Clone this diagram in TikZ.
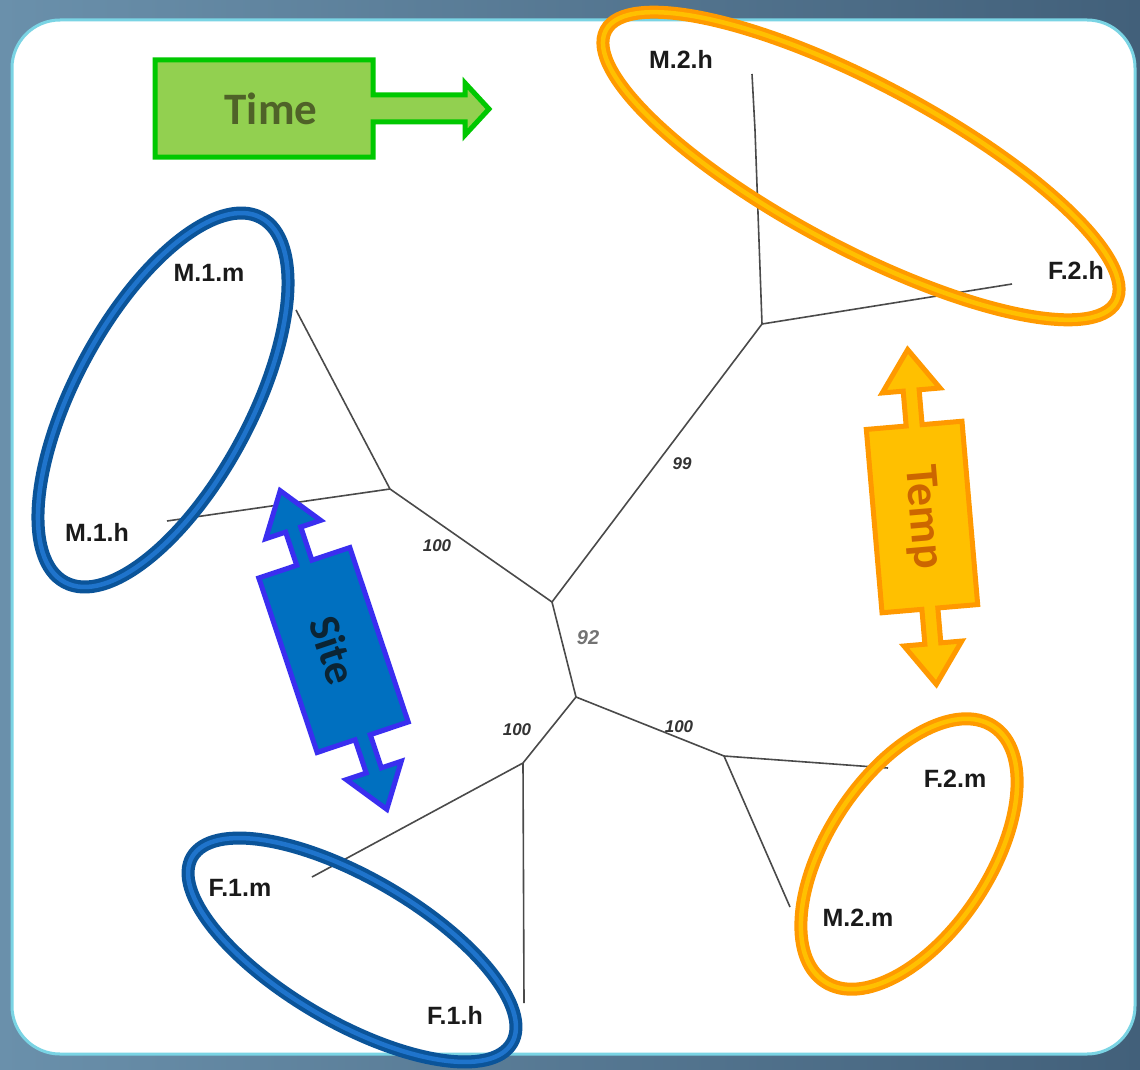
\documentclass[tikz,border=0pt]{standalone}
\usepackage{fontspec}
\newfontfamily\arialf{Liberation Sans}
\newfontfamily\calib{Carlito}
\definecolor{bgA}{HTML}{6A90AB}
\definecolor{bgB}{HTML}{42607A}
\definecolor{panelrim}{HTML}{7AD4E4}
\definecolor{branch}{HTML}{4A4A4A}
\definecolor{tiptext}{HTML}{1A1A1A}
\definecolor{bluedark}{HTML}{0B5499}
\definecolor{bluelight}{HTML}{1F74CC}
\definecolor{orangedark}{HTML}{FF9A00}
\definecolor{orangelight}{HTML}{FFC000}
\definecolor{timefill}{HTML}{92D050}
\definecolor{timerim}{HTML}{00C800}
\definecolor{timetext}{HTML}{4F6228}
\definecolor{tempfill}{HTML}{FFC000}
\definecolor{temprim}{HTML}{FF9900}
\definecolor{temptext}{HTML}{CC6600}
\definecolor{sitefill}{HTML}{0070C0}
\definecolor{siterim}{HTML}{3A2EF0}
\definecolor{sitetext}{HTML}{0B2434}
\begin{document}
\begin{tikzpicture}[x=1pt,y=-1pt,
  edge/.style={draw=branch,line width=1.6pt},
  tip/.style={font=\arialf\bfseries\fontsize{25}{28}\selectfont,text=tiptext,inner sep=0pt},
  support/.style={font=\arialf\bfseries\itshape\fontsize{17}{20}\selectfont,text=black!80,inner sep=0pt},
  arrowbody/.style={line width=5pt,line join=miter},
  ringout/.style={line width=13pt},
  ringin/.style={line width=4.5pt}]
\useasboundingbox (0,0) rectangle (1140,1070);
% backdrop and white panel
\shade[left color=bgA,right color=bgB] (0,0) rectangle (1140,1070);
\fill[white,draw=panelrim,line width=3pt,rounded corners=48pt] (12,20) rectangle (1135,1054);

% internal vertices of the tree
\coordinate (A) at (390,489);
\coordinate (B) at (552,602);
\coordinate (C) at (762,324);
\coordinate (D) at (576,697);
\coordinate (E) at (523,763);
\coordinate (G) at (724,756);
% leaf ends
\coordinate (m1m) at (296,310);
\coordinate (m1h) at (167,521);
\coordinate (m2h) at (752,74);
\coordinate (m2hk) at (755,130);
\coordinate (f2h) at (1012,284);
\coordinate (f1m) at (312,877);
\coordinate (f1h) at (524,1003);
\coordinate (f2m) at (888,768);
\coordinate (m2m) at (790,907);

\draw[edge] (A) -- (m1m);
\draw[edge] (A) -- (m1h);
\draw[edge] (A) -- (B);
\draw[edge] (B) -- (C);
\draw[edge] (C) -- (m2hk) -- (m2h);
\draw[edge] (C) -- (f2h);
\draw[edge] (B) -- (D);
\draw[edge] (D) -- (E);
\draw[edge] (E) -- (f1m);
\draw[edge] (E) -- (f1h);
\draw[edge] (D) -- (G);
\draw[edge] (G) -- (f2m);
\draw[edge] (G) -- (m2m);

% support values
\node[support] (sA) at (437,546) {100};
\node[support] (sC) at (682,464) {99};
\node[support,text=black!55,font=\arialf\bfseries\itshape\fontsize{20}{24}\selectfont] (sB) at (588,638) {92};
\node[support] (sE) at (517,730) {100};
\node[support] (sG) at (679,727) {100};

% leaf names
\node[tip] (Lm2h) at (681,59) {M.2.h};
\node[tip] (Lf2h) at (1076,270) {F.2.h};
\node[tip] (Lm1m) at (209,273) {M.1.m};
\node[tip] (Lm1h) at (97,532) {M.1.h};
\node[tip] (Lf1m) at (240,888) {F.1.m};
\node[tip] (Lf1h) at (455,1015) {F.1.h};
\node[tip] (Lf2m) at (955,779) {F.2.m};
\node[tip] (Lm2m) at (858,918) {M.2.m};

% group rings
\draw[ringout,bluedark,rotate around={61.7:(163,400)}] (163,400) ellipse [x radius=207pt,y radius=88pt];
\draw[ringin,bluelight,rotate around={61.7:(163,400)}] (163,400) ellipse [x radius=207pt,y radius=88pt];
\draw[ringout,bluedark,rotate around={-30.2:(352,950)}] (352,950) ellipse [x radius=185pt,y radius=72pt];
\draw[ringin,bluelight,rotate around={-30.2:(352,950)}] (352,950) ellipse [x radius=185pt,y radius=72pt];
\draw[ringout,orangedark,rotate around={-28:(861,166)}] (861,166) ellipse [x radius=289pt,y radius=82pt];
\draw[ringin,orangelight,rotate around={-28:(861,166)}] (861,166) ellipse [x radius=289pt,y radius=82pt];
\draw[ringout,orangedark,rotate around={56.5:(909,854)}] (909,854) ellipse [x radius=153pt,y radius=81pt];
\draw[ringin,orangelight,rotate around={56.5:(909,854)}] (909,854) ellipse [x radius=153pt,y radius=81pt];

% Time arrow
\draw[arrowbody,fill=timefill,draw=timerim]
  (155,60) -- (373,60) -- (373,95) -- (465,95) -- (465,83) -- (489,109)
  -- (465,135) -- (465,122) -- (373,122) -- (373,157) -- (155,157) -- cycle;
\node[font=\calib\bfseries\fontsize{45}{48}\selectfont,text=timetext] (time) at (271,109) {Time};

% Temp double arrow
\begin{scope}[shift={(922,517)},rotate=4.9]
\draw[arrowbody,fill=tempfill,draw=temprim]
  (-8,-92) -- (-8,-127) -- (-29,-127) -- (0,-168) -- (29,-127) -- (8,-127) -- (8,-92)
  -- (48,-92) -- (48,92) -- (8,92) -- (8,127) -- (29,127) -- (0,168) -- (-29,127)
  -- (-8,127) -- (-8,92) -- (-48,92) -- (-48,-92) -- cycle;
\end{scope}
\node[font=\calib\bfseries\fontsize{46}{50}\selectfont,text=temptext,rotate=-85.1] (temp) at (922,517) {Temp};

% Site double arrow
\begin{scope}[shift={(333.5,650)},rotate=18.5]
\draw[arrowbody,fill=sitefill,draw=siterim]
  (-8,-92) -- (-8,-127) -- (-29,-127) -- (0,-168) -- (29,-127) -- (8,-127) -- (8,-92)
  -- (48,-92) -- (48,92) -- (8,92) -- (8,127) -- (29,127) -- (0,168) -- (-29,127)
  -- (-8,127) -- (-8,92) -- (-48,92) -- (-48,-92) -- cycle;
\end{scope}
\node[font=\calib\bfseries\fontsize{44}{48}\selectfont,text=sitetext,rotate=-71.5] (site) at (333.5,650) {Site};
\end{tikzpicture}
\end{document}
